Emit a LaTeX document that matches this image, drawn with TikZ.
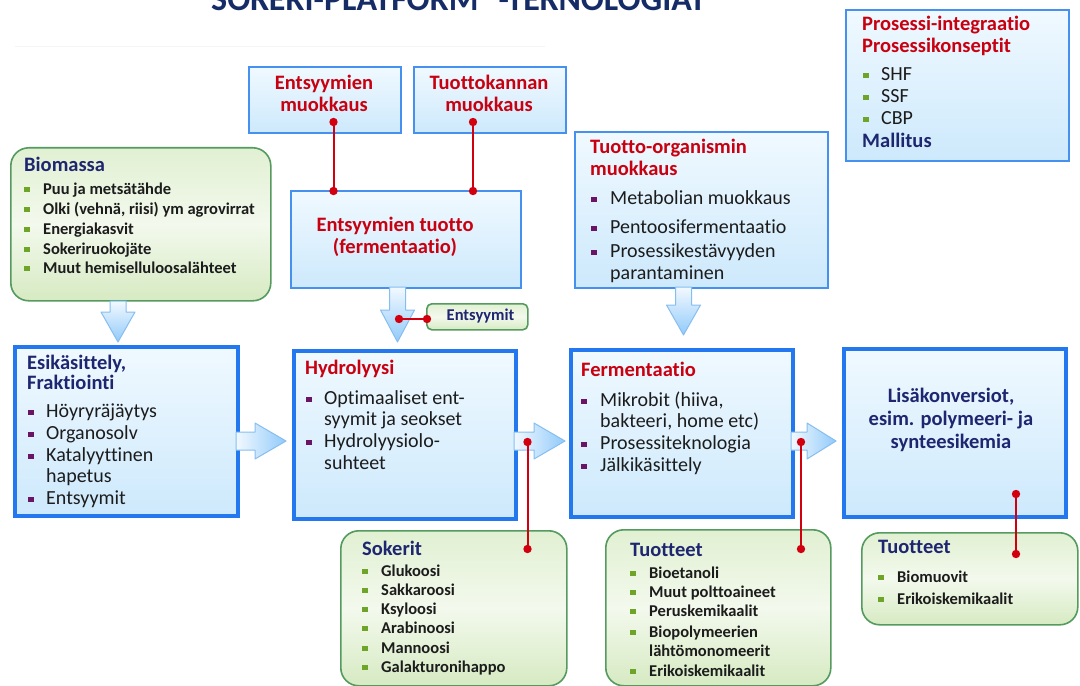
\documentclass[tikz,border=0pt]{standalone}
\usepackage{fontspec}
\setmainfont{Carlito}[Ligatures=NoCommon]
\definecolor{boxblue}{RGB}{70,145,240}
\definecolor{boxblueD}{RGB}{35,120,240}
\definecolor{bTop}{RGB}{240,249,255}
\definecolor{bBot}{RGB}{205,233,252}
\definecolor{grnline}{RGB}{85,155,95}
\definecolor{gTop}{RGB}{225,240,210}
\definecolor{gMid}{RGB}{243,249,237}
\definecolor{gBot}{RGB}{214,234,194}
\definecolor{redtxt}{RGB}{200,0,15}
\definecolor{navy}{RGB}{30,38,112}
\definecolor{titlenavy}{RGB}{22,44,102}
\definecolor{bulgreen}{RGB}{110,165,40}
\definecolor{bulpurple}{RGB}{105,20,100}
\definecolor{txt}{RGB}{28,28,28}
\definecolor{arrL}{RGB}{242,249,255}
\definecolor{arrD}{RGB}{145,202,250}
\definecolor{arrLine}{RGB}{135,190,240}
\definecolor{dotred}{RGB}{210,0,15}

% box from its top-left to its bottom-right corner
\newcommand\panel[6]{\node[#1, anchor=north west, inner sep=0pt,
  minimum width={(#5-#3)*1bp}, minimum height={(#6-#4)*1bp}] (#2) at (#3,#4) {};}
% bulleted line: bullet colour, bullet x, text x, y, text style, name, text
\newcommand\listline[7]{%
  \fill[#1] ({#2-2.7},{#4-2.4}) rectangle ({#2+2.7},{#4+3.0});
  \node[#5, anchor=mid west] (#6) at (#3,#4) {#7};}
% horizontal block arrow: x start, x head, x tip, y centre
\newcommand\harrow[4]{%
  \path[blockarrow] ({#1},{#4-9}) -- ({#2},{#4-9}) -- ({#2},{#4-18}) -- ({#3},{#4})
    -- ({#2},{#4+18}) -- ({#2},{#4+9}) -- ({#1},{#4+9}) -- cycle;}
% vertical block arrow: x centre, y start, y head, y tip
\newcommand\varrow[4]{%
  \path[blockarrowv] ({#1-8},{#2}) -- ({#1+8},{#2}) -- ({#1+8},{#3}) -- ({#1+17},{#3})
    -- ({#1},{#4}) -- ({#1-17},{#3}) -- ({#1-8},{#3}) -- cycle;}

\begin{document}
\begin{tikzpicture}[x=1bp,y=-1bp,
  bluebox/.style={draw=boxblue, line width=1.6bp, top color=bTop, bottom color=bBot},
  mainbox/.style={draw=boxblueD, line width=3.5bp, top color=bTop, bottom color=bBot},
  greenbox/.style={draw=grnline, line width=1.6bp, rounded corners=18bp,
    top color=gTop, bottom color=gBot, middle color=gMid},
  tagbox/.style={greenbox, rounded corners=5bp},
  lineshift/.style={yshift=-3.5bp},
  redhead/.style={font=\bfseries\fontsize{20.5bp}{23bp}\selectfont, text=redtxt, inner sep=0pt, lineshift},
  navyhead/.style={font=\bfseries\fontsize{20.5bp}{23bp}\selectfont, text=navy, inner sep=0pt, lineshift},
  plain/.style={font=\fontsize{20bp}{22bp}\selectfont, text=txt, inner sep=0pt, lineshift},
  bolditem/.style={font=\bfseries\fontsize{16.5bp}{19bp}\selectfont, text=txt, inner sep=0pt, lineshift},
  redlink/.style={draw=dotred, line width=2bp},
  reddot/.style={fill=dotred},
  blockarrow/.style={draw=arrLine, line width=1bp, line join=round, left color=arrL, right color=arrD},
  blockarrowv/.style={draw=arrLine, line width=1bp, line join=round, top color=arrL, bottom color=arrD},
]
\useasboundingbox (0,0) rectangle (1080,686);
\fill[white] (0,0) rectangle (1080,686);

% heading, running off the top edge
\begin{scope}
  \clip (0,0) rectangle (1080,686);
  \node[anchor=base west, inner sep=0pt, text=titlenavy,
    font=\bfseries\fontsize{34bp}{40bp}\selectfont] (title) at (211,11)
    {SOKERI-PLATFORM\hspace{20bp}-TEKNOLOGIAT};
\end{scope}
\draw[black!4, line width=1bp] (15,47) -- (545,47);

% ---------- boxes ----------
\panel{bluebox}{proc}{845}{9}{1068}{160}
\panel{bluebox}{enzmod}{248}{66}{400}{132}
\panel{bluebox}{strain}{413}{66}{565}{132}
\panel{bluebox}{enzprod}{290}{190}{520}{287}
\panel{greenbox}{biomass}{10}{147}{270}{300}
\panel{bluebox}{orgmod}{574}{131}{827}{287}
\panel{tagbox}{enzymes}{426}{303}{527}{329}
\panel{mainbox}{pretreat}{13}{345}{236}{514}
\panel{mainbox}{hydro}{292}{349}{514}{517}
\panel{mainbox}{ferm}{569}{348}{791}{515}
\panel{mainbox}{conv}{842}{347}{1064}{515}
\panel{greenbox}{sugars}{340}{530}{566}{685}
\panel{greenbox}{prodA}{605}{529}{830}{685}
\panel{greenbox}{prodB}{861}{532}{1077}{624}

% ---------- block arrows ----------
\varrow{118}{301}{312}{342}
\varrow{397.5}{287}{310}{342}
\varrow{683.5}{287}{305}{335}
\harrow{236}{255}{286}{441}
\harrow{514}{534}{565}{441}
\harrow{791}{807}{836}{441}

% ---------- texts ----------
\node[redhead, anchor=mid west] (procA) at (862,25) {Prosessi-integraatio};
\node[redhead, anchor=mid west] (procB) at (862,47) {Prosessikonseptit};
\listline{bulgreen}{866}{881}{75}{plain}{procC}{SHF}
\listline{bulgreen}{866}{881}{97}{plain}{procD}{SSF}
\listline{bulgreen}{866}{881}{119}{plain}{procE}{CBP}
\node[navyhead, anchor=mid west] (procF) at (862,142) {Mallitus};

\node[redhead, anchor=mid] (enzmodA) at (324,84) {Entsyymien};
\node[redhead, anchor=mid] (enzmodB) at (324,106) {muokkaus};
\node[redhead, anchor=mid] (strainA) at (489,84) {Tuottokannan};
\node[redhead, anchor=mid] (strainB) at (489,106) {muokkaus};

\node[redhead, anchor=mid] (enzprodA) at (395,226) {Entsyymien tuotto};
\node[redhead, anchor=mid] (enzprodB) at (395,248) {(fermentaatio)};

\node[navyhead, anchor=mid west] (bioA) at (24,166) {Biomassa};
\listline{bulgreen}{27}{43}{189}{bolditem}{bioB}{Puu ja metsätähde}
\listline{bulgreen}{27}{43}{209}{bolditem}{bioC}{Olki (vehnä, riisi) ym agrovirrat}
\listline{bulgreen}{27}{43}{229}{bolditem}{bioD}{Energiakasvit}
\listline{bulgreen}{27}{43}{249}{bolditem}{bioE}{Sokeriruokojäte}
\listline{bulgreen}{27}{43}{268}{bolditem}{bioF}{Muut hemiselluloosalähteet}

\node[redhead, anchor=mid west] (orgA) at (590,148) {Tuotto-organismin};
\node[redhead, anchor=mid west] (orgB) at (590,170) {muokkaus};
\listline{bulpurple}{594}{610}{199}{plain}{orgC}{Metabolian muokkaus}
\listline{bulpurple}{594}{610}{228}{plain}{orgD}{Pentoosifermentaatio}
\listline{bulpurple}{594}{610}{252}{plain}{orgE}{Prosessikestävyyden}
\node[plain, anchor=mid west] (orgF) at (610,274) {parantaminen};

\node[navyhead, anchor=mid west, font=\bfseries\fontsize{16.5bp}{19bp}\selectfont] (enzymesA) at (446.5,315) {Entsyymit};

\node[navyhead, anchor=mid west] (preA) at (27,364) {Esikäsittely,};
\node[navyhead, anchor=mid west] (preB) at (27,384) {Fraktiointi};
\listline{bulpurple}{31}{46}{412}{plain}{preC}{Höyryräjäytys}
\listline{bulpurple}{31}{46}{434}{plain}{preD}{Organosolv}
\listline{bulpurple}{31}{46}{456}{plain}{preE}{Katalyyttinen}
\node[plain, anchor=mid west] (preF) at (46,477) {hapetus};
\listline{bulpurple}{31}{46}{499}{plain}{preG}{Entsyymit}

\node[redhead, anchor=mid west] (hydA) at (305,369) {Hydrolyysi};
\listline{bulpurple}{309}{324}{399}{plain}{hydB}{Optimaaliset ent-}
\node[plain, anchor=mid west] (hydC) at (324,420) {syymit ja seokset};
\listline{bulpurple}{309}{324}{442}{plain}{hydD}{Hydrolyysiolo-}
\node[plain, anchor=mid west] (hydE) at (324,464) {suhteet};

\node[redhead, anchor=mid west] (ferA) at (581,371) {Fermentaatio};
\listline{bulpurple}{584}{600}{401}{plain}{ferB}{Mikrobit (hiiva,}
\node[plain, anchor=mid west] (ferC) at (600,422) {bakteeri, home etc)};
\listline{bulpurple}{584}{600}{444}{plain}{ferD}{Prosessiteknologia}
\listline{bulpurple}{584}{600}{466}{plain}{ferE}{Jälkikäsittely}

\node[navyhead, anchor=mid] (convA) at (951,397) {Lisäkonversiot,};
\node[navyhead, anchor=mid] (convB) at (951,420) {esim. polymeeri- ja};
\node[navyhead, anchor=mid] (convC) at (951,443) {synteesikemia};

\node[navyhead, anchor=mid west] (sugA) at (362,550) {Sokerit};
\listline{bulgreen}{365}{381}{571}{bolditem}{sugB}{Glukoosi}
\listline{bulgreen}{365}{381}{590}{bolditem}{sugC}{Sakkaroosi}
\listline{bulgreen}{365}{381}{609}{bolditem}{sugD}{Ksyloosi}
\listline{bulgreen}{365}{381}{628}{bolditem}{sugE}{Arabinoosi}
\listline{bulgreen}{365}{381}{648}{bolditem}{sugF}{Mannoosi}
\listline{bulgreen}{365}{381}{667}{bolditem}{sugG}{Galakturonihappo}

\node[navyhead, anchor=mid west] (prodAa) at (630,551) {Tuotteet};
\listline{bulgreen}{633}{649}{573}{bolditem}{prodAb}{Bioetanoli}
\listline{bulgreen}{633}{649}{592}{bolditem}{prodAc}{Muut polttoaineet}
\listline{bulgreen}{633}{649}{611}{bolditem}{prodAd}{Peruskemikaalit}
\listline{bulgreen}{633}{649}{632}{bolditem}{prodAe}{Biopolymeerien}
\node[bolditem, anchor=mid west] (prodAf) at (649,651) {lähtömonomeerit};
\listline{bulgreen}{633}{649}{671}{bolditem}{prodAg}{Erikoiskemikaalit}

\node[navyhead, anchor=mid west] (prodBa) at (878,548) {Tuotteet};
\listline{bulgreen}{881}{897}{577}{bolditem}{prodBb}{Biomuovit}
\listline{bulgreen}{881}{897}{599}{bolditem}{prodBc}{Erikoiskemikaalit}

% ---------- red links ----------
\coordinate (pEnzMod) at (333.5,122);
\coordinate (pEnzProdL) at (333.5,191);
\coordinate (pStrain) at (473,122);
\coordinate (pEnzProdR) at (473,191);
\coordinate (pArrow) at (399,319);
\coordinate (pEnzymes) at (427,319);
\coordinate (pHydro) at (527.5,442);
\coordinate (pSugars) at (527.5,549);
\coordinate (pFerm) at (801,442);
\coordinate (pProdA) at (801,549);
\coordinate (pConv) at (1016,494);
\coordinate (pProdB) at (1016,554);

\draw[redlink] (pEnzMod) -- (pEnzProdL);
\draw[redlink] (pStrain) -- (pEnzProdR);
\draw[redlink] (pArrow) -- (pEnzymes);
\draw[redlink] (pHydro) -- (pSugars);
\draw[redlink] (pFerm) -- (pProdA);
\draw[redlink] (pConv) -- (pProdB);
\foreach \p in {pEnzMod,pEnzProdL,pStrain,pEnzProdR,pArrow,pEnzymes,pHydro,pSugars,pFerm,pProdA,pConv,pProdB}
  \fill[reddot] (\p) circle (4.2);
\end{tikzpicture}
\end{document}
